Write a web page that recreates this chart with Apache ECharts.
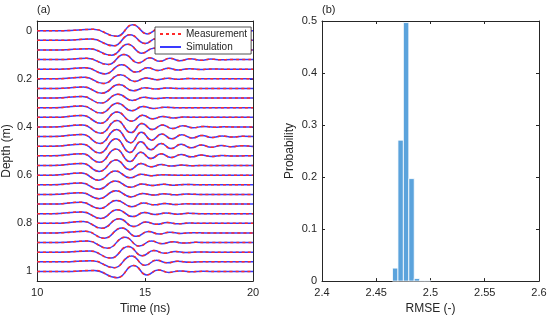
<!DOCTYPE html>
<html>
<head>
<meta charset="utf-8">
<script src="https://cdn.jsdelivr.net/npm/echarts@6/dist/echarts.min.js"></script>
<style>
html,body{margin:0;padding:0;background:#fff;}
#chart{width:550px;height:320px;}
</style>
</head>
<body>
<div id="chart"></div>
<script>
// ---------- Panel (a) data ----------
const depths = [0,0.04,0.08,0.12,0.16,0.2,0.24,0.28,0.32,0.36,0.4,0.44,0.48,0.52,0.56,0.6,0.64,0.68,0.72,0.76,0.8,0.84,0.88,0.92,0.96,1];
const depthTicks = [0,0.2,0.4,0.6,0.8,1];
const timeTicks = [10,15,20];
const measurement = [
 [[10,0],[11.2,0],[12.6,0.22],[13.7,-0.95],[14.43,1.0],[15.1,-0.55],[15.6,0.22],[16.1,-0.1],[16.6,0.04],[17.2,0],[20,0]],
 [[10,0],[11.1,0],[12.5,0.2],[13.55,-0.95],[14.3,0.95],[15.0,-0.55],[15.5,0.25],[16.0,-0.12],[16.5,0.05],[17.1,0],[20,0]],
 [[10,0],[11,0],[12.4,0.2],[13.45,-0.9],[14.2,0.95],[14.85,-0.55],[15.4,0.28],[15.9,-0.14],[16.4,0.06],[17,0],[20,0]],
 [[10,0],[11,0],[12.3,0.2],[13.3,-0.85],[14.02,0.85],[14.7,-0.55],[15.22,0.3],[15.68,-0.3],[16.15,0.2],[16.6,-0.2],[17.1,0.15],[17.58,-0.12],[18.05,0.07],[18.5,-0.04],[19,0],[20,0]],
 [[10,0],[11,0],[12.25,0.22],[13.15,-0.8],[13.92,0.75],[14.58,-0.5],[15.12,0.22],[15.6,-0.22],[16.08,0.14],[16.55,-0.14],[17.05,0.08],[17.55,-0.06],[18.1,0.03],[18.6,0],[20,0]],
 [[10,0],[10.9,0],[12.2,0.25],[13.08,-0.8],[13.86,0.7],[14.52,-0.45],[15.05,0.15],[15.55,-0.15],[16.05,0.1],[16.5,-0.08],[17.0,0.04],[17.6,0],[20,0]],
 [[10,0],[10.9,0],[12.15,0.25],[13.0,-0.8],[13.8,0.65],[14.45,-0.4],[15.0,0.12],[15.5,-0.1],[16.0,0.06],[16.6,0],[20,0]],
 [[10,0],[10.8,0],[12.1,0.28],[12.95,-0.85],[13.75,0.65],[14.4,-0.4],[14.95,0.12],[15.45,-0.08],[16,0.04],[16.6,0],[20,0]],
 [[10,0],[10.8,0],[12.1,0.3],[12.95,-0.9],[13.72,0.75],[14.38,-0.5],[14.9,0.2],[15.4,-0.12],[15.9,0.06],[16.5,0],[20,0]],
 [[10,0],[10.8,0],[12.1,0.32],[12.95,-1.0],[13.7,0.9],[14.38,-0.65],[14.88,0.35],[15.35,-0.25],[15.82,0.15],[16.3,-0.1],[16.8,0.05],[17.4,0],[20,0]],
 [[10,0],[10.7,0],[12.1,0.35],[12.95,-1.05],[13.7,1.1],[14.35,-0.95],[14.85,0.6],[15.33,-0.45],[15.8,0.35],[16.27,-0.28],[16.75,0.2],[17.22,-0.15],[17.7,0.1],[18.2,-0.06],[18.7,0.03],[19.3,0],[20,0]],
 [[10,0],[10.7,0],[12.1,0.35],[12.92,-1.15],[13.68,1.2],[14.33,-1.05],[14.83,0.75],[15.3,-0.6],[15.77,0.45],[16.23,-0.38],[16.7,0.3],[17.17,-0.24],[17.64,0.2],[18.1,-0.15],[18.57,0.11],[19.04,-0.08],[19.5,0.05],[20,0]],
 [[10,0],[10.7,0],[12.1,0.35],[12.9,-1.15],[13.65,1.25],[14.3,-1.05],[14.8,0.75],[15.27,-0.6],[15.74,0.48],[16.2,-0.4],[16.67,0.32],[17.14,-0.27],[17.6,0.22],[18.07,-0.17],[18.53,0.13],[19.0,-0.1],[19.47,0.07],[20,-0.03]],
 [[10,0],[10.7,0],[12.1,0.35],[12.9,-1.1],[13.65,1.15],[14.3,-0.95],[14.8,0.6],[15.27,-0.45],[15.74,0.35],[16.2,-0.28],[16.67,0.22],[17.14,-0.17],[17.6,0.13],[18.07,-0.1],[18.55,0.07],[19.05,-0.04],[19.6,0],[20,0]],
 [[10,0],[10.7,0],[12.1,0.35],[12.88,-1.0],[13.65,0.95],[14.3,-0.7],[14.8,0.35],[15.28,-0.22],[15.75,0.15],[16.22,-0.1],[16.7,0.07],[17.2,-0.04],[17.8,0],[20,0]],
 [[10,0],[10.7,0],[12.05,0.35],[12.85,-0.85],[13.62,0.7],[14.3,-0.45],[14.82,0.15],[15.3,-0.1],[15.8,0.05],[16.4,0],[20,0]],
 [[10,0],[10.7,0],[12.05,0.32],[12.85,-0.75],[13.62,0.62],[14.32,-0.42],[14.85,0.15],[15.35,-0.12],[15.85,0.1],[16.35,-0.08],[16.85,0.05],[17.4,0],[20,0]],
 [[10,0],[10.7,0],[12.05,0.3],[12.87,-0.72],[13.65,0.6],[14.35,-0.42],[14.88,0.15],[15.38,-0.12],[15.88,0.1],[16.38,-0.08],[16.9,0.05],[17.5,0],[20,0]],
 [[10,0],[10.7,0],[12.05,0.3],[12.9,-0.75],[13.68,0.62],[14.38,-0.45],[14.92,0.18],[15.42,-0.14],[15.92,0.1],[16.42,-0.08],[16.95,0.05],[17.5,0],[20,0]],
 [[10,0],[10.7,0],[12.1,0.3],[12.95,-0.8],[13.72,0.68],[14.42,-0.5],[14.97,0.2],[15.47,-0.15],[15.97,0.12],[16.47,-0.08],[17,0.05],[17.6,0],[20,0]],
 [[10,0],[10.8,0],[12.15,0.3],[13.0,-0.85],[13.8,0.75],[14.48,-0.55],[15.03,0.22],[15.53,-0.17],[16.03,0.12],[16.53,-0.08],[17.05,0.05],[17.7,0],[20,0]],
 [[10,0],[10.9,0],[12.25,0.28],[13.12,-0.9],[13.92,0.85],[14.6,-0.58],[15.15,0.25],[15.65,-0.18],[16.15,0.12],[16.65,-0.08],[17.2,0.04],[17.8,0],[20,0]],
 [[10,0],[11,0],[12.35,0.25],[13.27,-0.95],[14.07,0.92],[14.73,-0.6],[15.28,0.27],[15.78,-0.18],[16.28,0.12],[16.8,-0.08],[17.35,0.04],[18,0],[20,0]],
 [[10,0],[11.1,0],[12.45,0.22],[13.42,-1.0],[14.22,0.98],[14.87,-0.6],[15.4,0.28],[15.9,-0.18],[16.4,0.12],[16.9,-0.07],[17.45,0.04],[18.1,0],[20,0]],
 [[10,0],[11.2,0],[12.55,0.2],[13.57,-1.0],[14.37,1.0],[15.0,-0.6],[15.52,0.28],[16.02,-0.17],[16.52,0.11],[17.05,-0.06],[17.6,0.03],[18.2,0],[20,0]],
 [[10,0],[11.3,0],[12.65,0.18],[13.72,-1.05],[14.47,1.0],[15.08,-0.58],[15.6,0.26],[16.1,-0.16],[16.6,0.1],[17.1,-0.06],[17.7,0.03],[18.3,0],[20,0]]
];
// Simulation overlaps the measurement at this resolution
const simulation = measurement;
const amplitudeScale = 0.0245; // depth (m) per unit of normalised amplitude

// ---------- Panel (b) data ----------
const binEdges = [2.465,2.470,2.475,2.480,2.485,2.490,2.495,2.500];
const probabilities = [0.025,0.271,0.497,0.197,0.005,0.001,0.001];
const rmseTicks = [2.4,2.45,2.5,2.55,2.6];

// ---------- chart ----------
const FONT = '"Liberation Sans", Arial, Helvetica, sans-serif';
const AX = '#262626';
const BLUE = '#3a3aff';
const RED = '#ff2a2a';
const chart = echarts.init(document.getElementById('chart'), null, {renderer:'canvas'});

function toSeriesData(trace, depth){
  return trace.map(p => [p[0], depth - p[1]*amplitudeScale]);
}

const series = [];
depths.forEach((d,i)=>{
  series.push({
    name:'Simulation', type:'line', xAxisIndex:0, yAxisIndex:0,
    data: toSeriesData(simulation[i], d), showSymbol:false, symbol:'none',
    smooth:0.5, smoothMonotone:'x', silent:true, animation:false,
    itemStyle:{color:BLUE},
    lineStyle:{color:BLUE, width:1.5, type:'solid'}, z:2
  });
});
depths.forEach((d,i)=>{
  series.push({
    name:'Measurement', type:'line', xAxisIndex:0, yAxisIndex:0,
    data: toSeriesData(measurement[i], d), showSymbol:false, symbol:'none',
    smooth:0.5, smoothMonotone:'x', silent:true, animation:false,
    itemStyle:{color:RED},
    lineStyle:{color:RED, width:1.5, type:[3,3]}, z:3
  });
});
series.push({
  type:'custom', xAxisIndex:2, yAxisIndex:2, animation:false, silent:true,
  data: probabilities.map((p,i)=>[binEdges[i], binEdges[i+1], p]),
  encode:{x:[0,1], y:2},
  renderItem:function(params, api){
    const a = api.coord([api.value(0), api.value(2)]);
    const b = api.coord([api.value(1), 0]);
    return {type:'rect', shape:{x:a[0], y:a[1], width:b[0]-a[0], height:b[1]-a[1]},
      style:{fill:'#5ba3dc', stroke:'#ffffff', lineWidth:0.8}};
  }
});

const tickCommon = {show:true, inside:true, length:3, lineStyle:{color:AX, width:1}};
const lineCommon = {show:true, onZero:false, lineStyle:{color:AX, width:1}};
const labelCommon = {color:AX, fontSize:11, fontFamily:FONT};
const nameCommon = {color:AX, fontSize:12, fontFamily:FONT};

const option = {
  backgroundColor:'#ffffff',
  animation:false,
  grid:[
    {left:37, top:21, width:216, height:264, show:false},
    {left:322, top:21, width:217, height:264, show:false}
  ],
  xAxis:[
    {gridIndex:0, type:'value', min:10, max:20, interval:5, position:'bottom',
     axisLine:lineCommon, axisTick:tickCommon, splitLine:{show:false},
     axisLabel:Object.assign({margin:6}, labelCommon),
     name:'Time (ns)', nameLocation:'middle', nameGap:21, nameTextStyle:nameCommon},
    {gridIndex:0, type:'value', min:10, max:20, interval:5, position:'top',
     axisLine:lineCommon, axisTick:tickCommon, splitLine:{show:false}, axisLabel:{show:false}},
    {gridIndex:1, type:'value', min:2.4, max:2.6, interval:0.05, position:'bottom',
     axisLine:lineCommon, axisTick:tickCommon, splitLine:{show:false},
     axisLabel:Object.assign({margin:6, formatter:v=>String(+v.toFixed(2))}, labelCommon),
     name:'RMSE (-)', nameLocation:'middle', nameGap:21, nameTextStyle:nameCommon},
    {gridIndex:1, type:'value', min:2.4, max:2.6, interval:0.05, position:'top',
     axisLine:lineCommon, axisTick:tickCommon, splitLine:{show:false}, axisLabel:{show:false}}
  ],
  yAxis:[
    {gridIndex:0, type:'value', inverse:true, min:-0.04, max:1.04, position:'left',
     axisLine:lineCommon,
     axisTick:Object.assign({customValues:depthTicks}, tickCommon),
     axisLabel:Object.assign({customValues:depthTicks, margin:5, formatter:v=>String(+(+v).toFixed(2))}, labelCommon),
     splitLine:{show:false},
     name:'Depth (m)', nameLocation:'middle', nameGap:22, nameRotate:90, nameTextStyle:nameCommon},
    {gridIndex:0, type:'value', inverse:true, min:-0.04, max:1.04, position:'right',
     axisLine:lineCommon,
     axisTick:Object.assign({customValues:depthTicks}, tickCommon),
     axisLabel:{show:false}, splitLine:{show:false}},
    {gridIndex:1, type:'value', min:0, max:0.5, interval:0.1, position:'left',
     axisLine:lineCommon, axisTick:tickCommon, splitLine:{show:false},
     axisLabel:Object.assign({margin:5, formatter:v=>String(+v.toFixed(2))}, labelCommon),
     name:'Probability', nameLocation:'middle', nameGap:26, nameRotate:90, nameTextStyle:nameCommon},
    {gridIndex:1, type:'value', min:0, max:0.5, interval:0.1, position:'right',
     axisLine:lineCommon, axisTick:tickCommon, splitLine:{show:false}, axisLabel:{show:false}}
  ],
  legend:{
    show:true, left:155, top:27, orient:'vertical',
    data:['Measurement','Simulation'],
    backgroundColor:'#ffffff', borderColor:AX, borderWidth:0.8,
    padding:[2,4,2,4], itemGap:3, itemWidth:21, itemHeight:10,
    itemStyle:{opacity:0},
    textStyle:{color:AX, fontSize:10, fontFamily:FONT},
    selectedMode:false
  },
  graphic:[
    {type:'text', left:37, top:4, style:{text:'(a)', fill:AX, fontSize:11, fontFamily:FONT}},
    {type:'text', left:322, top:4, style:{text:'(b)', fill:AX, fontSize:11, fontFamily:FONT}}
  ],
  series:series
};
chart.setOption(option);
</script>
</body>
</html>
